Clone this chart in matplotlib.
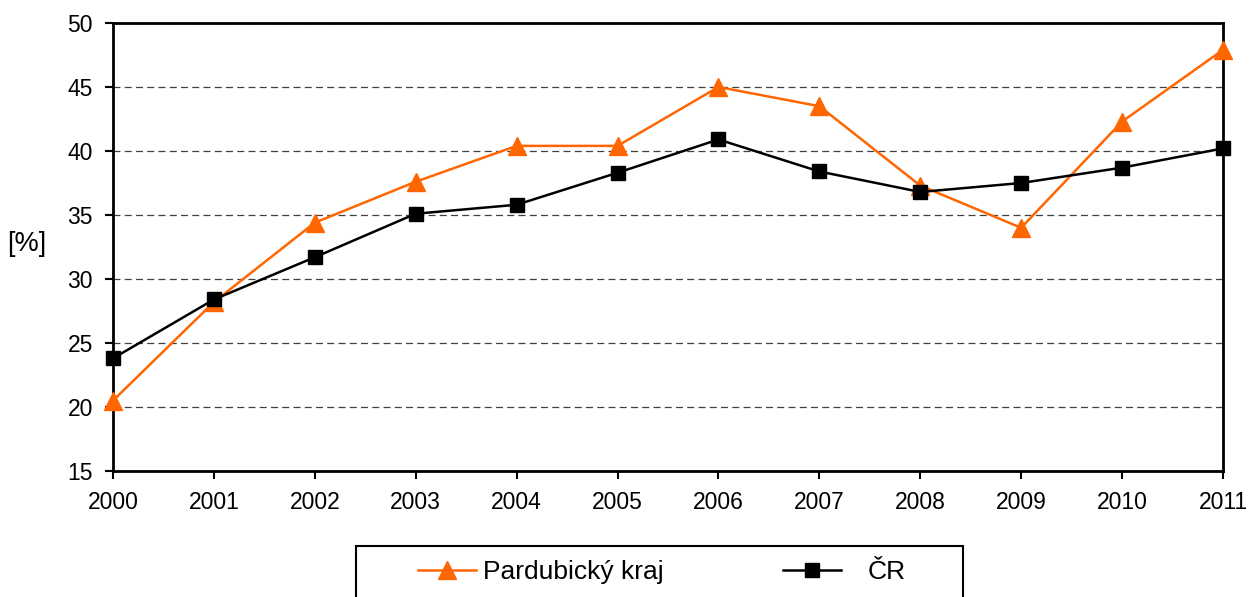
import matplotlib
matplotlib.use("Agg")
import matplotlib.pyplot as plt
from matplotlib.patches import Rectangle

# data
years = [2000, 2001, 2002, 2003, 2004, 2005, 2006, 2007, 2008, 2009, 2010, 2011]
pardubicky = [20.5, 28.2, 34.4, 37.6, 40.4, 40.4, 45.0, 43.5, 37.3, 34.0, 42.3, 47.9]
cr = [23.8, 28.4, 31.7, 35.1, 35.8, 38.3, 40.9, 38.4, 36.8, 37.5, 38.7, 40.2]
y_ticks = [15, 20, 25, 30, 35, 40, 45, 50]

plt.rcParams['font.family'] = ['Liberation Sans', 'DejaVu Sans']

fig = plt.figure(figsize=(12.51, 5.97), dpi=100)
ax = fig.add_axes([0.0903, 0.211, 0.8873, 0.7505])

l1, = ax.plot(years, pardubicky, color='#FF6600', lw=1.8, marker='^', ms=13,
              markeredgecolor='#FF6600', label='Pardubický kraj', clip_on=False, zorder=3)
l2, = ax.plot(years, cr, color='black', lw=1.8, marker='s', ms=10,
              label='ČR', clip_on=False, zorder=4)

ax.set_xlim(2000, 2011)
ax.set_ylim(15, 50)
ax.set_xticks(years)
ax.set_yticks(y_ticks)
ax.tick_params(labelsize=16.5, length=6, width=1.5, direction='out', pad=8.5)
ax.yaxis.grid(True, linestyle=(0, (5.6, 3.4)), color='#404040', lw=0.9)
ax.set_axisbelow(True)
for s in ax.spines.values():
    s.set_linewidth(2)

fig.text(27 / 1251, 1 - 244 / 597, '[%]', fontsize=19.5, ha='center', va='center')

# legend box runs past the bottom edge like in the original
fig.patches.append(Rectangle((356 / 1251, -0.05), 607 / 1251, 0.05 + 1 - 546 / 597,
                             transform=fig.transFigure, fill=False, lw=1.5,
                             edgecolor='black', clip_on=False))
ly = 1 - 572 / 597
fig.legend(handles=[l1], loc='center left', bbox_to_anchor=(418 / 1251, ly),
           fontsize=19, frameon=False, handlelength=2.2, handletextpad=0.25,
           borderpad=0, borderaxespad=0)
fig.legend(handles=[l2], loc='center left', bbox_to_anchor=(783 / 1251, ly),
           fontsize=19, frameon=False, handlelength=2.2, handletextpad=1.0,
           borderpad=0, borderaxespad=0)

fig.savefig('out.png', dpi=100)
